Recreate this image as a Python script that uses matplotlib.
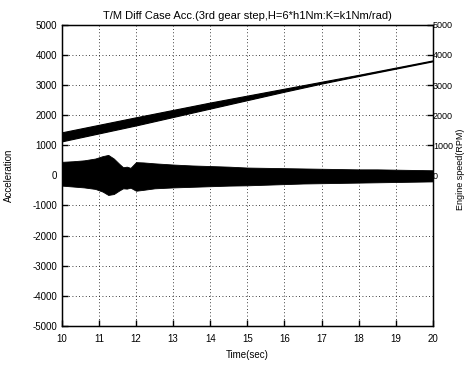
import matplotlib.pyplot as plt

plt.rcParams['font.family'] = ['Liberation Sans', 'DejaVu Sans']
plt.rcParams['axes.unicode_minus'] = False

# acceleration envelope (upper / lower edge of the dense oscillation)
acc_t = [10.0, 10.3, 10.6, 10.9, 11.1, 11.25, 11.4, 11.55, 11.65, 11.75, 11.85, 12.0, 12.2,
         12.5, 13.0, 13.5, 14.0, 14.5, 15.0, 15.5, 16.0, 16.5, 17.0, 17.5, 18.0, 18.5,
         19.0, 19.5, 20.0]
acc_hi = [450, 470, 500, 560, 640, 680, 560, 380, 270, 290, 250, 440, 430,
          400, 360, 330, 310, 290, 260, 250, 240, 230, 220, 210, 200, 200,
          190, 180, 170]
acc_lo = [-340, -370, -400, -450, -540, -650, -620, -500, -430, -440, -410, -510, -480,
          -430, -400, -380, -360, -340, -330, -310, -290, -270, -260, -250, -240, -230,
          -220, -210, -200]

# engine speed band
spd_t = [10, 12, 14, 15, 16, 17, 18, 20]
spd_hi = [1430, 1930, 2420, 2650, 2880, 3110, 3340, 3820]
spd_lo = [1130, 1660, 2220, 2500, 2780, 3050, 3300, 3790]

fig = plt.figure(figsize=(4.65, 3.65), dpi=100)
ax = fig.add_axes([0.133, 0.107, 0.798, 0.825])

ax.fill_between(acc_t, acc_lo, acc_hi, color='black', lw=0.6)
ax.fill_between(spd_t, spd_lo, spd_hi, color='black', lw=0.8)

ax.set_xlim(10, 20)
ax.set_ylim(-5000, 5000)
ax.set_xticks(range(10, 21))
ax.set_yticks(range(-5000, 5001, 1000))
ax.grid(True, color='black', linestyle=(0, (1, 3)), linewidth=0.6)
ax.tick_params(direction='in', length=4, width=1, labelsize=7)
ax.tick_params(axis='x', pad=6)
for s in ax.spines.values():
    s.set_linewidth(1)

ax.set_title('T/M Diff Case Acc.(3rd gear step,H=6*h1Nm:K=k1Nm/rad)', fontsize=8, pad=4)
ax.set_xlabel('Time(sec)', fontsize=7, labelpad=4)
ax.set_ylabel('Acceleration', fontsize=7)
ax.yaxis.set_label_coords(-0.128, 0.5)

ax2 = ax.twinx()
ax2.set_ylim(-5000, 5000)
ax2.set_yticks(range(0, 5001, 1000))
ax2.tick_params(direction='in', length=4, width=1, labelsize=6.5, pad=0)
ax2.set_ylabel('Engine speed(RPM)', fontsize=6.5)
ax2.yaxis.set_label_coords(1.062, 0.52)

fig.savefig('out.png', dpi=100)
